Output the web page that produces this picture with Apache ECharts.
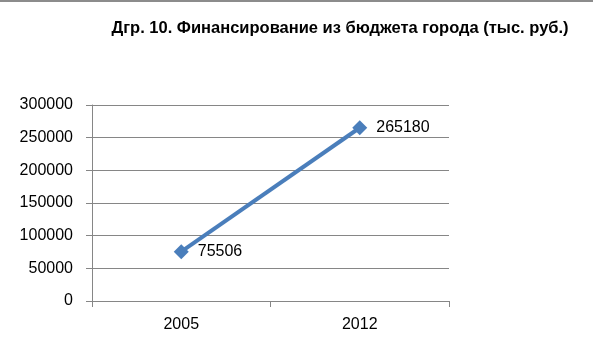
<!DOCTYPE html>
<html><head><meta charset="utf-8">
<script src="https://cdn.jsdelivr.net/npm/echarts@6/dist/echarts.min.js"></script>
<style>html,body{margin:0;padding:0;background:#fff}#c{width:593px;height:353px}</style>
</head><body><div id="c"></div>
<script>
const titleText = 'Дгр. 10. Финансирование из бюджета города (тыс. руб.)';
const categories = ['2005', '2012'];
const values = [75506, 265180];
const yTicks = [0, 50000, 100000, 150000, 200000, 250000, 300000];

const chart = echarts.init(document.getElementById('c'));
const font = '"Liberation Sans", Arial, sans-serif';
chart.setOption({
  animation: false,
  backgroundColor: '#fff',
  graphic: [{type:'line', shape:{x1:0,y1:1,x2:593,y2:1}, style:{stroke:'#8c8c8c', lineWidth:2}}],
  title: {
    text: titleText, left: 335, top: 15, textAlign: 'center',
    textStyle: {fontFamily: font, fontWeight: 'bold', fontSize: 16.5, color: '#000'}
  },
  grid: {left: 92, top: 105, width: 357, height: 196, containLabel: false},
  xAxis: {
    type: 'category', data: categories, boundaryGap: true,
    axisLine: {lineStyle: {color: '#868686', width: 1}},
    axisTick: {show: true, length: 6, lineStyle: {color: '#868686'}},
    axisLabel: {fontFamily: font, fontSize: 16, color: '#000', margin: 16}
  },
  yAxis: {
    type: 'value', min: yTicks[0], max: yTicks[yTicks.length-1], interval: 50000,
    axisLine: {show: true, lineStyle: {color: '#868686'}},
    axisTick: {show: true, length: 6, lineStyle: {color: '#868686'}},
    splitLine: {lineStyle: {color: '#868686', width: 1}},
    axisLabel: {fontFamily: font, fontSize: 16, color: '#000', margin: 19, formatter: v => String(v)}
  },
  series: [{
    type: 'line', data: values,
    symbol: 'diamond', symbolSize: 15,
    lineStyle: {color: '#4A7EBB', width: 4},
    itemStyle: {color: '#4A7EBB'},
    label: {show: true, position: 'right', distance: 9, fontFamily: font, fontSize: 16, color: '#000'}
  }]
});
</script></body></html>
